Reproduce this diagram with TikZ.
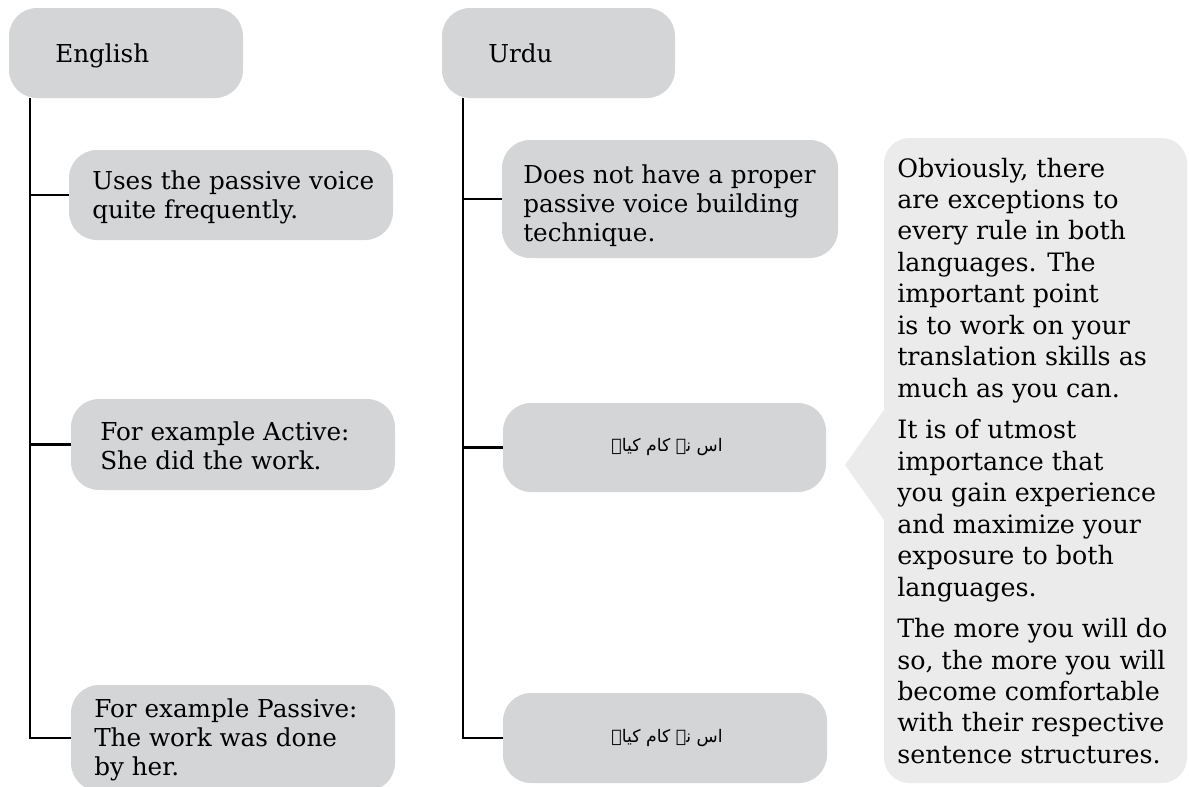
\documentclass[tikz,border=0pt]{standalone}
\usepackage{fontspec}
\setmainfont{DejaVu Serif}
\newfontfamily\urdufont[Script=Arabic]{DejaVu Sans}
\TeXXeTstate=1
\usetikzlibrary{fit}
\definecolor{boxgrey}{HTML}{D4D5D7}
\definecolor{notegrey}{HTML}{EBEBEB}
\newcommand{\lines}[1]{\begin{tabular}[t]{@{}l@{}}#1\end{tabular}}

\begin{document}
\begin{tikzpicture}[x=0.75pt, y=-0.75pt,
  box/.style={fill=boxgrey, rounded corners=21pt, inner sep=0pt},
  note/.style={fill=notegrey, rounded corners=19pt, inner sep=0pt},
  txt/.style={inner sep=0pt, anchor=base west,
    font=\fontsize{18.5pt}{22.1pt}\selectfont},
  notetxt/.style={inner sep=0pt, anchor=base west,
    font=\fontsize{19pt}{23.6pt}\selectfont},
  urdu/.style={inner sep=0pt, font=\urdufont\fontsize{13pt}{16pt}\selectfont},
  tree/.style={draw=black, line width=1.9pt}]
\useasboundingbox (0,0) rectangle (1189,786);
\clip (0,0) rectangle (1189,786);

% column heads
\node[box, fit={(9,8)(243,98)}] (eng) {};
\node[box, fit={(442,8)(675,98)}] (urd) {};
\node[txt] (engt) at (55,62) {English};
\node[txt] (urdt) at (488,62) {Urdu};

% English branch boxes
\node[box, fit={(69,150)(393,240)}] (e1) {};
\node[box, fit={(71,399)(395,490)}] (e2) {};
\node[box, fit={(71,685)(395,791)}] (e3) {};
\node[txt] (e1t) at (92,189) {\lines{Uses the passive voice\\quite frequently.}};
\node[txt] (e2t) at (100,440) {\lines{For example Active:\\She did the work.}};
\node[txt] (e3t) at (94,717) {\lines{For example Passive:\\The work was done\\by her.}};

% Urdu branch boxes
\node[box, fit={(502,140)(838,258)}] (u1) {};
\node[box, fit={(503,403)(826,492)}] (u2) {};
\node[box, fit={(503,693)(827,783)}] (u3) {};
\node[txt] (u1t) at (523,183) {\lines{Does not have a proper\\passive voice building\\technique.}};
\node[urdu] (u2t) at (667,447) {\beginR اس نے کام کیا۔\endR};
\node[urdu] (u3t) at (667,738) {\beginR اس نے کام کیا۔\endR};

% tree connectors
\coordinate (etrunk) at (30,98);
\coordinate (utrunk) at (463,98);
\draw[tree] (etrunk) |- (e3.west);
\draw[tree] (etrunk |- e1.west) -- (e1.west);
\draw[tree] (etrunk |- e2.west) -- (e2.west);
\draw[tree] (utrunk) |- (u3.west);
\draw[tree] (utrunk |- u1.west) -- (u1.west);
\draw[tree] (utrunk |- u2.west) -- (u2.west);

% speech-bubble note
\node[note, fit={(884,138)(1187,783)}] (nt) {};
\coordinate (tip) at (845,465);
\fill[notegrey] (884,410) -- (tip) -- (884,520) -- cycle;
\node[notetxt] (ntt) at (897,177) {\lines{Obviously, there\\are exceptions to\\every rule in both\\languages. The\\important point\\is to work on your\\translation skills as\\much as you can.\\[7.5pt]
It is of utmost\\importance that\\you gain experience\\and maximize your\\exposure to both\\languages.\\[7.5pt]
The more you will do\\so, the more you will\\become comfortable\\with their respective\\sentence structures.}};
\end{tikzpicture}
\end{document}
